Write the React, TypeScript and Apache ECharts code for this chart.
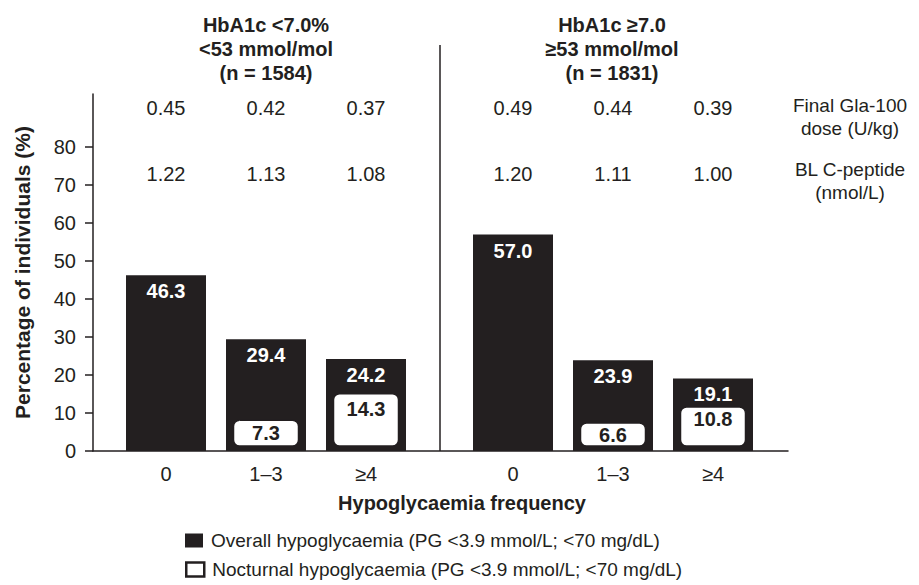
import React, { useEffect, useRef } from "react";
import * as echarts from "echarts";

const categories = ["0", "1–3", "≥4"];
const overallLow = [46.3, 29.4, 24.2];
const overallHigh = [57.0, 23.9, 19.1];
const nocturnalLow: (number | null)[] = [null, 7.3, 14.3];
const nocturnalHigh: (number | null)[] = [null, 6.6, 10.8];
const doseLow = ["0.45", "0.42", "0.37"];
const doseHigh = ["0.49", "0.44", "0.39"];
const cpepLow = ["1.22", "1.13", "1.08"];
const cpepHigh = ["1.20", "1.11", "1.00"];
const yTicks = [0, 10, 20, 30, 40, 50, 60, 70, 80];
const groupTitles = [
  "HbA1c <7.0%\n<53 mmol/mol\n(n = 1584)",
  "HbA1c ≥7.0\n≥53 mmol/mol\n(n = 1831)",
];
const rowLabels = ["Final Gla-100\ndose (U/kg)", "BL C-peptide\n(nmol/L)"];
const overallName = "Overall hypoglycaemia (PG <3.9 mmol/L; <70 mg/dL)";
const nocturnalName = "Nocturnal hypoglycaemia (PG <3.9 mmol/L; <70 mg/dL)";

const INK = "#231f20";
const FONT = "'Liberation Sans', Arial, Helvetica, sans-serif";
const YMAX = 94;

function renderNocturnal(params: any, api: any) {
  const x = api.value(0);
  const v = api.value(1);
  const top = api.coord([x, v]);
  const bottom = api.coord([x, 0]);
  const size = api.size([1, 0]);
  const w = size[0] * 0.65;
  const y0 = top[1] - 3;
  const y1 = bottom[1] - 5;
  return {
    type: "rect",
    shape: { x: top[0] - w / 2, y: y0, width: w, height: y1 - y0, r: 6 },
    style: { fill: "#fff", stroke: INK, lineWidth: 1.5 },
    textContent: {
      type: "text",
      style: {
        text: Number(v).toFixed(1),
        fill: INK,
        fontSize: 20,
        fontWeight: "bold",
        fontFamily: FONT,
      },
    },
    textConfig: { position: "insideTop", distance: y1 - y0 > 40 ? 6 : 3 },
  };
}

export default function App() {
  const ref = useRef<HTMLDivElement>(null);
  useEffect(() => {
    if (!ref.current) return;
    const chart = echarts.init(ref.current, null, { renderer: "svg" });

    const grids = [
      { left: 93, right: 131, top: 94, bottom: 134 },
      { left: 116, width: 300, top: 94, bottom: 134 },
      { left: 463, width: 300, top: 94, bottom: 134 },
    ];

    const xAxes: any[] = [
      {
        gridIndex: 0,
        type: "category",
        data: [""],
        axisLine: { show: true, lineStyle: { color: INK, width: 1.5 } },
        axisTick: { show: false },
        axisLabel: { show: false },
      },
    ];
    const yAxes: any[] = [
      {
        gridIndex: 0,
        type: "value",
        min: 0,
        max: YMAX,
        interval: 10,
        axisLine: { show: true, lineStyle: { color: INK, width: 1.5 } },
        axisTick: {
          show: true,
          length: 8,
          customValues: yTicks,
          lineStyle: { color: INK, width: 1.5 },
        },
        axisLabel: {
          customValues: yTicks,
          fontSize: 20,
          color: INK,
          fontFamily: FONT,
          margin: 17,
        },
        splitLine: { show: false },
        name: "Percentage of individuals (%)",
        nameLocation: "middle",
        nameGap: 60,
        nameTextStyle: {
          fontSize: 21,
          fontWeight: "bold",
          color: INK,
          fontFamily: FONT,
        },
      },
    ];

    const groups = [
      { overall: overallLow, noct: nocturnalLow, dose: doseLow, cpep: cpepLow },
      { overall: overallHigh, noct: nocturnalHigh, dose: doseHigh, cpep: cpepHigh },
    ];

    const series: any[] = [];
    groups.forEach((g, i) => {
      const gi = i + 1;
      const base = xAxes.length;
      xAxes.push(
        {
          gridIndex: gi,
          type: "category",
          data: categories,
          axisLine: { show: false },
          axisTick: { show: false },
          axisLabel: { fontSize: 20, color: INK, fontFamily: FONT, margin: 13 },
        },
        {
          gridIndex: gi,
          type: "category",
          position: "top",
          data: g.dose,
          axisLine: { show: false },
          axisTick: { show: false },
          axisLabel: { inside: true, margin: 4, fontSize: 20, color: INK, fontFamily: FONT },
        },
        {
          gridIndex: gi,
          type: "category",
          position: "top",
          data: g.cpep,
          axisLine: { show: false },
          axisTick: { show: false },
          axisLabel: { inside: true, margin: 70, fontSize: 20, color: INK, fontFamily: FONT },
        }
      );
      yAxes.push({
        gridIndex: gi,
        type: "value",
        min: 0,
        max: YMAX,
        show: false,
        splitLine: { show: false },
      });
      series.push({
        type: "bar",
        name: overallName,
        xAxisIndex: base,
        yAxisIndex: gi,
        data: g.overall,
        barWidth: "80%",
        z: 2,
        itemStyle: { color: INK },
        label: {
          show: true,
          position: "insideTop",
          distance: 6,
          color: "#fff",
          fontWeight: "bold",
          fontSize: 20,
          fontFamily: FONT,
          formatter: (p: any) => Number(p.value).toFixed(1),
        },
      });
      const noctData: any[] = [];
      g.noct.forEach((v, idx) => {
        if (v != null) noctData.push([idx, v]);
      });
      series.push({
        type: "custom",
        coordinateSystem: "cartesian2d",
        name: nocturnalName,
        xAxisIndex: base,
        yAxisIndex: gi,
        z: 10,
        data: noctData,
        renderItem: renderNocturnal,
      });
    });

    const legendCommon = {
      orient: "horizontal",
      left: 180,
      itemWidth: 18,
      itemHeight: 14,
      selectedMode: false,
      textStyle: { fontSize: 19, color: INK, fontFamily: FONT, padding: [0, 0, 0, 3] },
    };

    const option: any = {
      animation: false,
      backgroundColor: "#fff",
      textStyle: { fontFamily: FONT },
      grid: grids,
      xAxis: xAxes,
      yAxis: yAxes,
      series,
      legend: [
        {
          ...legendCommon,
          top: 526,
          data: [{ name: overallName, icon: "rect", itemStyle: { color: INK, borderWidth: 0 } }],
        },
        {
          ...legendCommon,
          top: 555,
          data: [
            {
              name: nocturnalName,
              icon: "rect",
              itemStyle: { color: "#fff", borderColor: INK, borderWidth: 2.5 },
            },
          ],
        },
      ],
      graphic: [
        {
          type: "line",
          shape: { x1: 440, y1: 45, x2: 440, y2: 451 },
          style: { stroke: INK, lineWidth: 1.5 },
        },
        ...groupTitles.map((t, i) => ({
          type: "text",
          x: i === 0 ? 266 : 612,
          y: 13,
          style: {
            text: t,
            font: `bold 20px ${FONT}`,
            fill: INK,
            align: "center",
            verticalAlign: "top",
            lineHeight: 24,
          },
        })),
        ...rowLabels.map((t, i) => ({
          type: "text",
          x: 850,
          y: i === 0 ? 94 : 158,
          style: {
            text: t,
            font: `19px ${FONT}`,
            fill: INK,
            align: "center",
            verticalAlign: "top",
            lineHeight: 23,
          },
        })),
        {
          type: "text",
          x: 462,
          y: 503,
          style: {
            text: "Hypoglycaemia frequency",
            font: `bold 20px ${FONT}`,
            fill: INK,
            align: "center",
            verticalAlign: "middle",
          },
        },
      ],
    };
    chart.setOption(option);
    return () => chart.dispose();
  }, []);
  return (
    <div
      ref={ref}
      style={{ position: "fixed", left: 0, top: 0, width: 919, height: 585, background: "#fff" }}
    />
  );
}
